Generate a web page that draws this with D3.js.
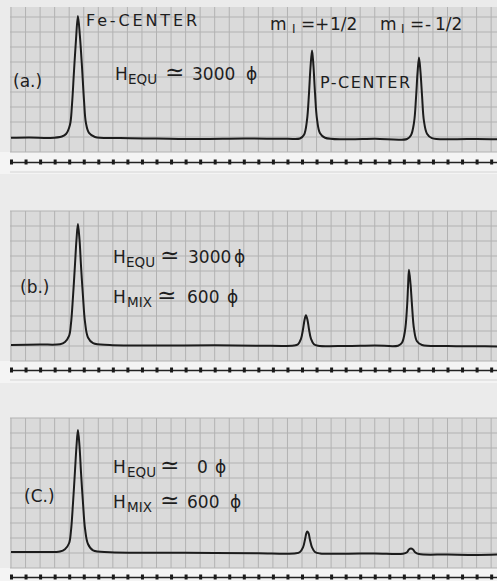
<!DOCTYPE html>
<html>
<head>
<meta charset="utf-8">
<script src="https://cdn.jsdelivr.net/npm/d3@7"></script>
<style>
  body { margin: 0; background: #ececec; }
  svg { display: block; }
  text { font-family: "DejaVu Sans", sans-serif; fill: #1e1e1e; }
</style>
</head>
<body>
<svg id="chart" width="497" height="581"></svg>
<script>
// recorder traces, [chart division along field, chart division above grid bottom]
var traceA = [[0,0.95],[1.3,0.97],[2.7,0.93],[3.5,1.03],[3.78,1.2],[4.05,1.8],[4.19,3.13],[4.33,5.4],[4.47,7.53],[4.6,9.07],
  [4.74,7.67],[4.88,5.67],[5.02,3.4],[5.15,1.93],[5.36,1.27],[5.77,1.0],[7.5,0.93],[10,0.9],[13,0.87],[16,0.9],[19,0.88],
  [19.86,0.9],[20.14,1.15],[20.34,2.1],[20.48,3.9],[20.58,5.6],[20.69,6.77],[20.79,5.7],[20.89,4.0],[21.03,2.2],[21.24,1.25],
  [21.58,0.95],[23,0.85],[25,0.88],[27.22,0.87],[27.49,1.12],[27.7,1.97],[27.84,3.67],[27.94,5.27],[28.04,6.3],[28.14,5.37],
  [28.25,3.77],[28.38,2.07],[28.59,1.22],[28.93,0.92],[30.5,0.85],[32,0.87],[33.5,0.85]];

var traceB = [[0,1.07],[1.99,1.1],[3.37,1.12],[3.71,1.27],[3.99,1.67],[4.12,2.47],[4.26,4.27],[4.4,6.47],[4.5,8.07],[4.6,9.13],
  [4.71,8.07],[4.81,6.37],[4.95,4.27],[5.09,2.57],[5.29,1.57],[5.64,1.19],[6.8,1.07],[10,1.03],[14,1.05],[17,1.02],[19.45,1.03],
  [19.73,1.12],[19.93,1.47],[20.07,2.12],[20.17,2.72],[20.27,3.05],[20.38,2.72],[20.48,2.12],[20.62,1.47],[20.82,1.12],[21.1,1.02],
  [23,1.0],[25,1.04],[26.6,1.02],[26.87,1.22],[27.08,2.02],[27.22,3.62],[27.29,5.02],[27.35,6.09],[27.46,5.12],[27.56,3.72],
  [27.7,2.12],[27.9,1.32],[28.25,1.07],[30,1.0],[32,0.98],[33.5,0.97]];

var traceC = [[0,1.07],[2,1.07],[3.37,1.1],[3.71,1.25],[3.99,1.65],[4.12,2.45],[4.26,4.3],[4.4,6.5],[4.5,8.1],[4.6,9.2],
  [4.71,8.1],[4.81,6.4],[4.95,4.3],[5.09,2.6],[5.29,1.6],[5.64,1.17],[6.8,1.05],[10,1.02],[14,1.0],[17,0.98],[19.59,0.98],
  [19.86,1.07],[20.07,1.37],[20.21,1.92],[20.3,2.32],[20.36,2.44],[20.45,2.32],[20.55,1.87],[20.69,1.37],[20.89,1.07],[21.24,0.97],
  [23,0.95],[25,0.97],[26.94,0.95],[27.22,1.05],[27.35,1.23],[27.49,1.3],[27.63,1.23],[27.77,1.05],[28.04,0.93],[30,0.9],
  [32,0.87],[33.5,0.9]];

var panelNames = ["(a.)", "(b.)", "(C.)"];
var gridCols = d3.range(0, 34);
var gridRows = d3.range(0, 11);
var markerTicks = d3.range(0, 34);

var svg = d3.select("#chart");
var x = d3.scaleLinear().domain([0, 34]).range([11, 11 + 34 * 14.55]);

// H label pieces: [text, x, kind] kind 1 = subscript, 2 = approx sign
var hEqu3000a = [["H",115,0],["EQU",128,1],["≃",165,2],["3000",192,0],["ϕ",246,0]];
var hEqu3000b = [["H",113,0],["EQU",126,1],["≃",160,2],["3000",188,0],["ϕ",234,0]];
var hMix600b  = [["H",113,0],["MIX",127,1],["≃",157,2],["600",187,0],["ϕ",227,0]];
var hEqu0c    = [["H",113,0],["EQU",127,1],["≃",160,2],["0",197,0],["ϕ",215,0]];
var hMix600c  = [["H",113,0],["MIX",127,1],["≃",160,2],["600",187,0],["ϕ",230,0]];

var panels = [
  {trace: traceA, top: 7, bottom: 152, marker: 162, name: panelNames[0], nx: 13, ny: 87,
   hLabels: [[hEqu3000a, 80]]},
  {trace: traceB, top: 211, bottom: 361, marker: 370, name: panelNames[1], nx: 20, ny: 293,
   hLabels: [[hEqu3000b, 263], [hMix600b, 303]]},
  {trace: traceC, top: 418, bottom: 568, marker: 577, name: panelNames[2], nx: 24, ny: 502,
   hLabels: [[hEqu0c, 473], [hMix600c, 508]]}
];

svg.append("rect").attr("width", 497).attr("height", 581).attr("fill", "#ebebeb");

panels.forEach(function (p) {
  var y = d3.scaleLinear().domain([0, 10]).range([p.bottom, p.bottom - 150]);
  var g = svg.append("g");

  // lighter strip round the timing line
  g.append("rect").attr("x", 0).attr("y", p.bottom).attr("width", 497).attr("height", 22)
    .attr("fill", "#f4f4f4");

  // chart paper
  g.append("rect").attr("x", 10).attr("y", p.top).attr("width", 487).attr("height", p.bottom - p.top)
    .attr("fill", "#dadada");
  g.selectAll(".vline").data(gridCols.filter(function (d) { return x(d) >= 10; })).enter().append("line")
    .attr("x1", function (d) { return x(d); }).attr("x2", function (d) { return x(d); })
    .attr("y1", p.top).attr("y2", p.bottom)
    .attr("stroke", "#b2b2b2").attr("stroke-width", 1);
  g.selectAll(".hline").data(gridRows.filter(function (d) { return y(d) >= p.top; })).enter().append("line")
    .attr("x1", 10).attr("x2", 497)
    .attr("y1", function (d) { return y(d); }).attr("y2", function (d) { return y(d); })
    .attr("stroke", "#b2b2b2").attr("stroke-width", 1);

  // timing marks
  var axis = g.append("g").attr("transform", "translate(0," + p.marker + ")")
    .call(d3.axisBottom(x).tickValues(markerTicks).tickSizeOuter(0).tickSize(0).tickFormat(""));
  axis.select(".domain").attr("stroke", "#222").attr("stroke-width", 1.4);
  axis.selectAll(".tick line").attr("y1", -2.5).attr("y2", 2.5)
    .attr("stroke", "#1a1a1a").attr("stroke-width", 3);
  g.append("line").attr("x1", 10).attr("x2", 497).attr("y1", p.marker + 10).attr("y2", p.marker + 10)
    .attr("stroke", "#d4d4d4").attr("stroke-width", 1);

  // trace
  var line = d3.line()
    .x(function (d) { return x(d[0]); })
    .y(function (d) { return y(d[1]); })
    .curve(d3.curveCatmullRom.alpha(0.5));
  g.append("path").datum(p.trace).attr("d", line)
    .attr("fill", "none").attr("stroke", "#1c1c1c").attr("stroke-width", 2)
    .attr("stroke-linejoin", "round");

  // labels
  g.append("text").attr("x", p.nx).attr("y", p.ny).attr("font-size", 17).text(p.name);
  p.hLabels.forEach(function (hl) {
    var t = g.append("text").attr("y", hl[1]);
    hl[0].forEach(function (piece) {
      t.append("tspan").attr("x", piece[1])
        .attr("y", piece[2] === 1 ? hl[1] + 4 : hl[1])
        .attr("font-size", piece[2] === 1 ? 13.5 : piece[2] === 2 ? 23 : 17)
        .text(piece[0]);
    });
  });
});

// panel (a) annotations
svg.append("text").attr("x", 86).attr("y", 26).attr("font-size", 16)
  .attr("textLength", 111).attr("lengthAdjust", "spacing").text("Fe-CENTER");
svg.append("text").attr("x", 320).attr("y", 88).attr("font-size", 16)
  .attr("textLength", 90).attr("lengthAdjust", "spacing").text("P-CENTER");

var mLabels = [["m", 270], ["I", 292, 1], ["=", 301], ["+", 315], ["1/2", 330], ["m", 380], ["I", 401, 1], ["=", 410], ["-", 425], ["1/2", 435]];
var mt = svg.append("text").attr("y", 30);
mLabels.forEach(function (piece) {
  mt.append("tspan").attr("x", piece[1]).attr("y", piece[2] ? 33 : 30)
    .attr("font-size", piece[2] ? 12 : 17).text(piece[0]);
});
</script>
</body>
</html>
